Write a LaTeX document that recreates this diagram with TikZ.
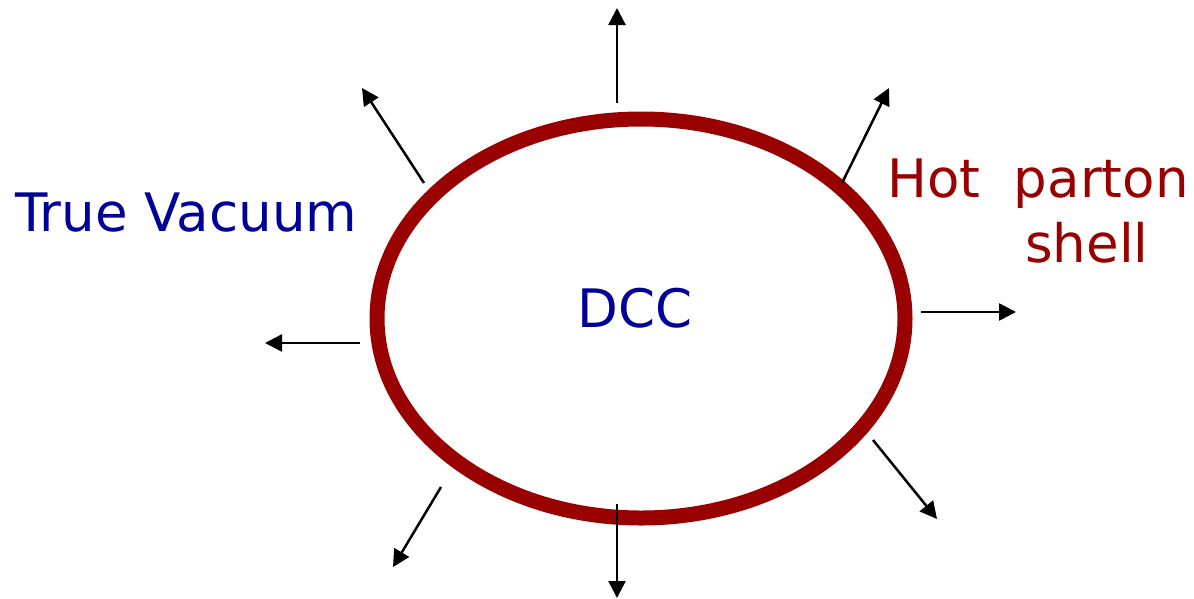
\documentclass[tikz,border=0pt]{standalone}
\usepackage{fontspec}
\setmainfont{DejaVu Sans}
\usetikzlibrary{shapes.geometric,arrows.meta}
\definecolor{vacblue}{HTML}{000099}
\definecolor{shellred}{HTML}{990000}
\tikzset{
  label text/.style={inner sep=0pt, font=\fontsize{53}{63}\selectfont},
  burst/.style={line width=2.5pt, -{Triangle[length=17pt,width=17pt]}},
}
\begin{document}
\begin{tikzpicture}[x=1pt,y=-1pt]
  \useasboundingbox (0,0) rectangle (1194,598);
  % expanding shell
  \node[ellipse, draw=shellred, line width=15pt, inner sep=0pt,
        minimum width=528pt, minimum height=399pt] (shell) at (641,318.5) {};
  \node[label text, text=vacblue, anchor=base] (dcc) at (635,327) {DCC};
  \node[label text, text=vacblue, anchor=base west] (vac) at (15,231) {True Vacuum};
  \node[label text, text=shellred, anchor=base west] (hot) at (887,197) {Hot\ \ parton};
  \node[label text, text=shellred, anchor=base west] (shl) at (1025,262) {shell};
  % outward flow
  \foreach \n/\sx/\sy/\tx/\ty in {
      n/617/103/617/8,
      nw/424/183/362/88,
      ne/842/183/889/88,
      e/921/312/1016/312,
      w/360/343/265/343,
      se/873/440/937/519,
      sw/441/487/393/567,
      s/617/504/617/598} {
    \coordinate (from-\n) at (\sx,\sy);
    \coordinate (to-\n) at (\tx,\ty);
    \draw[burst] (from-\n) -- (to-\n);
  }
\end{tikzpicture}
\end{document}
